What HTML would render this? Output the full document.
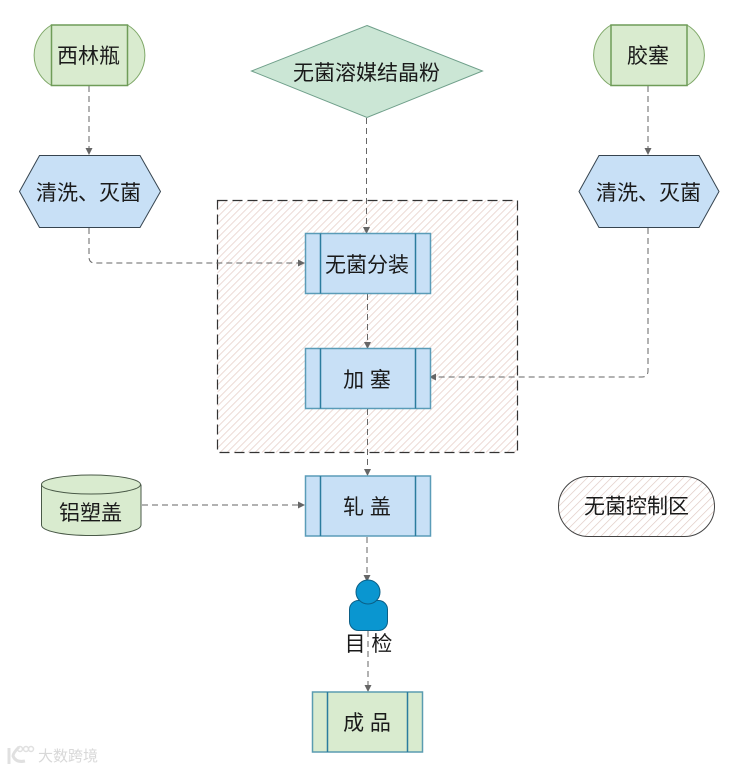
<!DOCTYPE html>
<html><head><meta charset="utf-8"><style>
html,body{margin:0;padding:0;background:#fff;width:741px;height:769px;overflow:hidden}
svg{display:block}
text{font-family:"Liberation Sans","Noto Sans CJK SC",sans-serif;font-size:21px;fill:#1a1a1a;text-anchor:middle}
.c{fill:none;stroke:#666;stroke-width:1;stroke-dasharray:6 4}
.a{fill:#666}
.g{fill:#d9ebcf;stroke:#7fa868;stroke-width:1}
.gl{stroke:#6f9c58;stroke-width:1.5;fill:none}
.h{fill:#c8e0f6;stroke:#36444f;stroke-width:1}
.b{fill:#c8e0f6;stroke:#5a9cb8;stroke-width:1.5}
.bl{stroke:#2b7c9e;stroke-width:1.5;fill:none}
</style></head><body>
<svg width="741" height="769" viewBox="0 0 741 769" xmlns="http://www.w3.org/2000/svg">
<defs>
<pattern id="ht" width="4.950" height="4.950" patternUnits="userSpaceOnUse" patternTransform="rotate(45)">
<rect width="4.950" height="4.950" fill="#fff"/><line x1="0" y1="0" x2="0" y2="4.950" stroke="#e3c8c0" stroke-width="1.300"/>
</pattern>
<pattern id="ht2" width="5.660" height="5.660" patternUnits="userSpaceOnUse" patternTransform="rotate(45)">
<rect width="5.660" height="5.660" fill="#fff"/><line x1="0" y1="0" x2="0" y2="5.660" stroke="#e0cac4" stroke-width="1.300"/>
</pattern>
</defs>

<!-- hatched zone -->
<rect x="217.500" y="200.500" width="300" height="252" fill="url(#ht)" stroke="#333" stroke-width="1.200" stroke-dasharray="10 5"/>

<!-- connectors -->
<path class="c" d="M89 86V149"/><path class="a" d="M85.500 148h7l-3.500 7z"/>
<path class="c" d="M648 86V149"/><path class="a" d="M644.500 148h7l-3.500 7z"/>
<path class="c" d="M366.500 118V228"/><path class="a" d="M363 227h7l-3.500 7z"/>
<path class="c" d="M89 228V257q0 6 6 6H298"/><path class="a" d="M298 259.500v7l7-3.500z"/>
<path class="c" d="M648 228V371q0 6-6 6H436"/><path class="a" d="M436 373.500v7l-7-3.500z"/>
<path class="c" d="M367.500 294V343"/><path class="a" d="M364 342h7l-3.500 7z"/>
<path class="c" d="M367.500 409V470"/><path class="a" d="M364 469h7l-3.500 7z"/>
<path class="c" d="M367 537V576"/><path class="a" d="M363.500 575h7l-3.500 7z"/>
<path class="c" d="M142 505H298"/><path class="a" d="M298 501.500v7l7-3.500z"/>
<path class="c" d="M368 631V686"/><path class="a" d="M364.500 685h7l-3.500 7z"/>

<!-- top left shape -->
<path class="g" d="M51.500 25H127.500A35 35 0 0 1 127.500 85.500H51.500A35 35 0 0 1 51.500 25Z"/>
<path class="gl" d="M51.500 25V85.500H127.500V25Z"/>
<text x="88.500" y="63">西林瓶</text>

<!-- top right shape -->
<path class="g" d="M611 25H687A35 35 0 0 1 687 85.500H611A35 35 0 0 1 611 25Z"/>
<path class="gl" d="M611 25V85.500H687V25Z"/>
<text x="648" y="63">胶塞</text>

<!-- diamond -->
<polygon points="367,25.500 482.500,71 367,117.500 251.500,71" fill="#cbe6d5" stroke="#6f9f8a" stroke-width="1"/>
<text x="366.500" y="80">无菌溶媒结晶粉</text>

<!-- hexagons -->
<polygon class="h" points="39.500,155.500 140,155.500 160.500,191.500 140,227.500 39.500,227.500 19.500,191.500"/>
<text x="88.500" y="200">清洗、灭菌</text>
<polygon class="h" points="599,155.500 699,155.500 719,191.500 699,227.500 599,227.500 579,191.500"/>
<text x="648.500" y="200">清洗、灭菌</text>

<!-- process boxes -->
<rect class="b" x="305.500" y="233.500" width="125" height="60"/>
<path class="bl" d="M320.500 233.500V293.500M415.500 233.500V293.500"/>
<text x="367" y="272">无菌分装</text>

<rect class="b" x="305.500" y="348.500" width="125" height="60"/>
<path class="bl" d="M320.500 348.500V408.500M415.500 348.500V408.500"/>
<text x="367" y="387">加 塞</text>

<rect class="b" x="305.500" y="476" width="125" height="60"/>
<path class="bl" d="M320.500 476V536M415.500 476V536"/>
<text x="367" y="514">轧 盖</text>

<rect x="312.500" y="692" width="110" height="60" fill="#d9ebcf" stroke="#5a9cb0" stroke-width="1.500"/>
<path class="bl" d="M327.500 692V752M407.500 692V752"/>
<text x="367" y="730">成 品</text>

<!-- cylinder -->
<path d="M41.500 485V525C41.500 531 63 535.500 91 535.500S141 531 141 525V485Z" fill="#d9ebcf" stroke="#4a5a48" stroke-width="1"/>
<ellipse cx="91" cy="484.500" rx="49.500" ry="9.500" fill="#d9ebcf" stroke="#4a5a48" stroke-width="1"/>
<text x="90.500" y="520">铝塑盖</text>

<!-- legend pill -->
<rect x="558.500" y="476.500" width="156" height="60" rx="30" ry="30" fill="url(#ht2)" stroke="#444" stroke-width="1"/>
<text x="636.500" y="513.500">无菌控制区</text>

<!-- person -->
<rect x="349.500" y="600.500" width="38" height="30" rx="9" ry="9" fill="#0a96d0" stroke="#0b5f86" stroke-width="1"/>
<circle cx="368" cy="592" r="12" fill="#0a96d0" stroke="#0b5f86" stroke-width="1"/>
<text x="368.500" y="651">目 检</text>

<!-- watermark -->
<g opacity="0.9">
<path d="M9 748V764M19 747q-6 6-6 9q3 7 12 5" fill="none" stroke="#ddd" stroke-width="3"/>
<circle cx="20" cy="749" r="2.500" fill="none" stroke="#ddd" stroke-width="1.500"/>
<circle cx="26" cy="749" r="2.500" fill="none" stroke="#ddd" stroke-width="1.500"/>
<circle cx="31" cy="749" r="2.500" fill="none" stroke="#ddd" stroke-width="1.500"/>
<text x="68" y="761" style="font-size:15px;fill:#d4d4d4">大数跨境</text>
</g>
</svg>
</body></html>
